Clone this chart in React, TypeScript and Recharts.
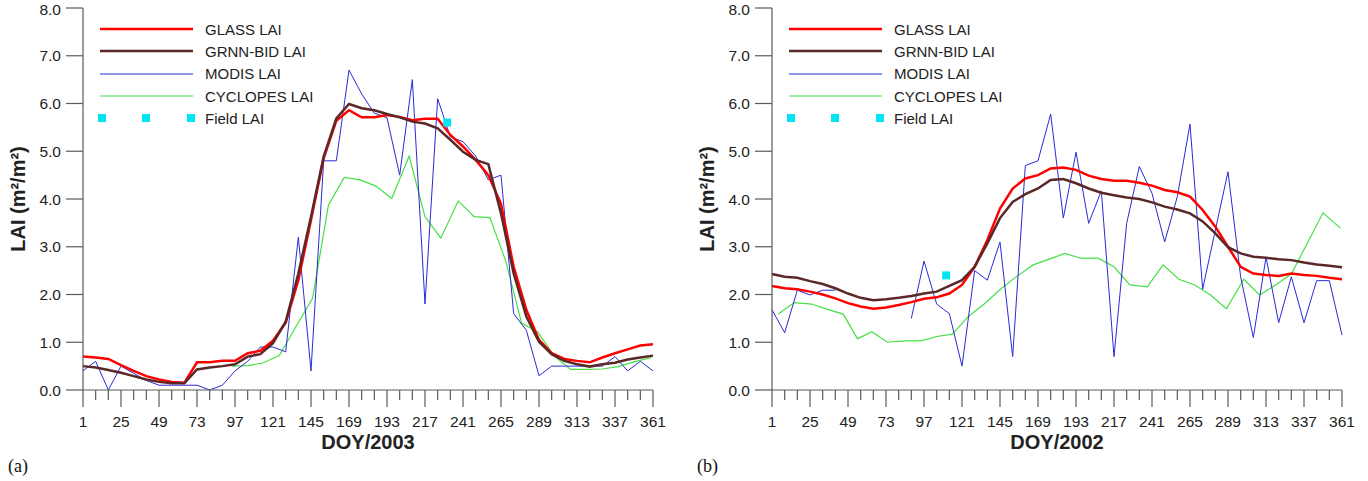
import React from 'react'
import { ComposedChart, Line, Scatter, XAxis, YAxis } from 'recharts'

// 8-day composite dates (GLASS, GRNN-BID, MODIS)
const DOY_8DAY = [
  1, 9, 17, 25, 33, 41, 49, 57, 65, 73, 81, 89, 97, 105, 113, 121, 129, 137, 145, 153, 161, 169, 177,
  185, 193, 201, 209, 217, 225, 233, 241, 249, 257, 265, 273, 281, 289, 297, 305, 313, 321, 329, 337,
  345, 353, 361,
]
// dekadal dates (CYCLOPES)
const DOY_DEKAD = [
  5, 15, 26, 36, 46, 55, 64, 74, 85, 95, 105, 115, 125, 135, 146, 156, 166, 176, 186, 196, 207, 217,
  227, 238, 248, 258, 268, 278, 288, 299, 309, 319, 329, 339, 349, 360,
]
const LAI_TICKS = [0, 1, 2, 3, 4, 5, 6, 7, 8]

// (a) 2003
const glassA = [
  0.7, 0.68, 0.65, 0.52, 0.4, 0.29, 0.22, 0.17, 0.15, 0.58, 0.58, 0.61, 0.61, 0.77, 0.82, 1.03, 1.41,
  2.3, 3.56, 4.85, 5.64, 5.86, 5.71, 5.71, 5.76, 5.72, 5.65, 5.68, 5.68, 5.34, 5.1, 4.82, 4.5, 3.9,
  2.58, 1.68, 1.05, 0.77, 0.65, 0.61, 0.58, 0.68, 0.77, 0.85, 0.93, 0.96,
]
const grnnA = [
  0.5, 0.47, 0.42, 0.36, 0.29, 0.22, 0.17, 0.14, 0.14, 0.43, 0.47, 0.5, 0.54, 0.7, 0.75, 0.98, 1.43,
  2.44, 3.63, 4.89, 5.69, 5.99, 5.9, 5.86, 5.78, 5.71, 5.62, 5.58, 5.48, 5.24, 4.99, 4.82, 4.73, 3.7,
  2.44, 1.54, 1.01, 0.75, 0.61, 0.54, 0.49, 0.54, 0.57, 0.64, 0.68, 0.72,
]
const modisA = [
  0.4, 0.6, 0.0, 0.5, 0.35, 0.2, 0.1, 0.1, 0.1, 0.1, 0.0, 0.1, 0.4, 0.6, 0.9, 0.9, 0.8, 3.2, 0.4, 4.8,
  4.8, 6.7, 6.2, 5.8, 5.7, 4.5, 6.5, 1.8, 6.1, 5.3, 5.2, 4.9, 4.4, 4.5, 1.6, 1.25, 0.3, 0.5, 0.5, 0.5,
  0.5, 0.5, 0.7, 0.4, 0.6, 0.4,
]
const cyclopesA = [
  null, null, null, null, null, null, null, null, null, 0.5, 0.51, 0.57, 0.72, 1.3, 1.92, 3.87, 4.45,
  4.4, 4.27, 4.01, 4.9, 3.63, 3.18, 3.96, 3.63, 3.61, 2.7, 1.4, 1.22, 0.7, 0.43, 0.43, 0.44, 0.49,
  0.59, 0.68,
]
const fieldDoyA = [231]
const fieldLaiA = [5.6]

// (b) 2002
const glassB = [
  2.18, 2.13, 2.11, 2.06, 2.0, 1.92, 1.82, 1.75, 1.7, 1.73, 1.78, 1.84, 1.91, 1.94, 2.02, 2.2, 2.58,
  3.14, 3.8, 4.22, 4.43, 4.5, 4.64, 4.66, 4.61, 4.49, 4.42, 4.38, 4.38, 4.34, 4.28, 4.19, 4.14, 4.05,
  3.77, 3.42, 3.0, 2.58, 2.44, 2.41, 2.39, 2.44, 2.41, 2.39, 2.35, 2.32,
]
const grnnB = [
  2.43, 2.37, 2.35, 2.28, 2.22, 2.13, 2.02, 1.93, 1.88, 1.9, 1.93, 1.97, 2.02, 2.06, 2.18, 2.3, 2.58,
  3.07, 3.6, 3.94, 4.1, 4.22, 4.4, 4.42, 4.33, 4.22, 4.13, 4.08, 4.03, 4.0, 3.93, 3.84, 3.78, 3.7,
  3.53, 3.28, 2.99, 2.86, 2.79, 2.77, 2.74, 2.72, 2.67, 2.63, 2.6, 2.57,
]
const modisB = [
  1.68, 1.2, 2.09, 1.99, 2.09, 2.09, null, null, null, null, null, 1.5, 2.7, 1.8, 1.6, 0.5, 2.5, 2.3,
  3.1, 0.7, 4.7, 4.8, 5.78, 3.6, 4.98, 3.49, 4.17, 0.7, 3.49, 4.68, 4.12, 3.1, 4.05, 5.57, 2.11, 3.35,
  4.57, 2.37, 1.1, 2.78, 1.41, 2.37, 1.41, 2.29, 2.29, 1.15,
]
const cyclopesB = [
  1.59, 1.83, 1.8, 1.69, 1.59, 1.07, 1.22, 1.0, 1.03, 1.03, 1.12, 1.17, 1.54, 1.8, 2.13, 2.39, 2.62,
  2.74, 2.86, 2.76, 2.76, 2.58, 2.2, 2.16, 2.62, 2.32, 2.2, 1.99, 1.7, 2.32, 1.99, 2.2, 2.43, 3.07,
  3.71, 3.39,
]
const fieldDoyB = [111]
const fieldLaiB = [2.4]

const FONT = '"Liberation Sans", Arial, sans-serif'
const AXIS = '#5a5a5a'
const FRAME = '#8c8c8c'
const CYAN = '#00e6f2'

const SERIES = [
  { name: 'GLASS LAI', color: '#ff0000', width: 2.5 },
  { name: 'GRNN-BID LAI', color: '#5a2826', width: 2.5 },
  { name: 'MODIS LAI', color: '#2a2ad8', width: 1 },
  { name: 'CYCLOPES LAI', color: '#44e044', width: 1.2 },
]

const toRows = (doys: number[], vals: (number | null)[]) =>
  doys.map((d, i) => ({ doy: d, lai: vals[i] }))

function DoyTick({ x, y, payload }: any) {
  const v = payload.value
  const major = (v - 1) % 24 === 0
  return (
    <g>
      <line x1={x} x2={x} y1={y} y2={y + (major ? 17 : 10)} stroke={AXIS} strokeWidth={1.2} />
      {major && (
        <text x={x} y={y + 37} textAnchor="middle" fontSize={15.5} fill="#222" fontFamily={FONT}>
          {v}
        </text>
      )}
    </g>
  )
}

function LegendBox() {
  const row: React.CSSProperties = { display: 'flex', alignItems: 'center', height: 22.3 }
  const label: React.CSSProperties = { marginLeft: 12, fontSize: 15, color: '#222', fontFamily: FONT }
  return (
    <div style={{ position: 'absolute', left: 100, top: 18 }}>
      {SERIES.map((s) => (
        <div key={s.name} style={row}>
          <svg width={93} height={22}>
            <line x1={0} x2={93} y1={11} y2={11} stroke={s.color} strokeWidth={s.width} />
          </svg>
          <span style={label}>{s.name}</span>
        </div>
      ))}
      <div style={row}>
        <svg width={93} height={22} style={{ overflow: 'visible' }}>
          <rect x={-2} y={7} width={8} height={8} fill={CYAN} />
          <rect x={42} y={7} width={8} height={8} fill={CYAN} />
          <rect x={87} y={7} width={8} height={8} fill={CYAN} />
        </svg>
        <span style={label}>Field LAI</span>
      </div>
    </div>
  )
}

interface PanelProps {
  left: number
  year: string
  tag: string
  glass: number[]
  grnn: number[]
  modis: (number | null)[]
  cyclopes: (number | null)[]
  fieldDoy: number[]
  fieldLai: number[]
}

function Panel({ left, year, tag, glass, grnn, modis, cyclopes, fieldDoy, fieldLai }: PanelProps) {
  const lines = [glass, grnn, modis]
  return (
    <div style={{ position: 'absolute', left, top: 0, width: 680, height: 481 }}>
      <ComposedChart width={680} height={481} margin={{ top: 8, right: 27, left: 0, bottom: 0 }}>
        <XAxis
          dataKey="doy"
          type="number"
          domain={[1, 361]}
          ticks={DOY_8DAY}
          interval={0}
          tick={<DoyTick />}
          tickLine={false}
          tickSize={0}
          tickMargin={0}
          height={91}
          stroke={AXIS}
          strokeWidth={1.2}
          label={{
            value: `DOY/${year}`,
            position: 'insideBottom',
            offset: 32,
            style: { fontSize: 20, fontWeight: 'bold', fill: '#222', fontFamily: FONT },
          }}
        />
        <XAxis
          xAxisId="top"
          orientation="top"
          type="number"
          domain={[1, 361]}
          height={0}
          tick={false}
          tickLine={false}
          stroke={FRAME}
        />
        <YAxis
          dataKey="lai"
          type="number"
          domain={[0, 8]}
          ticks={LAI_TICKS}
          tickFormatter={(v: number) => v.toFixed(1)}
          width={83}
          tickSize={17}
          tickMargin={5}
          stroke={AXIS}
          strokeWidth={1.2}
          tick={{ fontSize: 15.5, fill: '#222', fontFamily: FONT }}
          label={{
            value: 'LAI (m²/m²)',
            angle: -90,
            position: 'insideLeft',
            offset: 18,
            style: { textAnchor: 'middle', fontSize: 20, fontWeight: 'bold', fill: '#222', fontFamily: FONT },
          }}
        />
        <YAxis
          yAxisId="right"
          orientation="right"
          domain={[0, 8]}
          width={0}
          tick={false}
          tickLine={false}
          stroke={FRAME}
        />
        <Line
          data={toRows(DOY_DEKAD, cyclopes)}
          dataKey="lai"
          name={SERIES[3].name}
          stroke={SERIES[3].color}
          strokeWidth={SERIES[3].width}
          dot={false}
          type="linear"
          isAnimationActive={false}
        />
        {[2, 0, 1].map((i) => (
          <Line
            key={SERIES[i].name}
            data={toRows(DOY_8DAY, lines[i])}
            dataKey="lai"
            name={SERIES[i].name}
            stroke={SERIES[i].color}
            strokeWidth={SERIES[i].width}
            dot={false}
            type="linear"
            isAnimationActive={false}
          />
        ))}
        <Scatter
          data={toRows(fieldDoy, fieldLai)}
          dataKey="lai"
          name="Field LAI"
          fill={CYAN}
          shape="square"
          isAnimationActive={false}
        />
      </ComposedChart>
      <LegendBox />
      <div
        style={{
          position: 'absolute',
          left: 8,
          top: 455,
          fontFamily: '"Liberation Serif", "Times New Roman", serif',
          fontSize: 18,
          lineHeight: '22px',
          color: '#111',
        }}
      >
        {tag}
      </div>
    </div>
  )
}

export default function App() {
  return (
    <div style={{ position: 'absolute', left: 0, top: 0, width: 1368, height: 481, background: '#fff', overflow: 'hidden' }}>
      <Panel
        left={0}
        year="2003"
        tag="(a)"
        glass={glassA}
        grnn={grnnA}
        modis={modisA}
        cyclopes={cyclopesA}
        fieldDoy={fieldDoyA}
        fieldLai={fieldLaiA}
      />
      <Panel
        left={689}
        year="2002"
        tag="(b)"
        glass={glassB}
        grnn={grnnB}
        modis={modisB}
        cyclopes={cyclopesB}
        fieldDoy={fieldDoyB}
        fieldLai={fieldLaiB}
      />
    </div>
  )
}
